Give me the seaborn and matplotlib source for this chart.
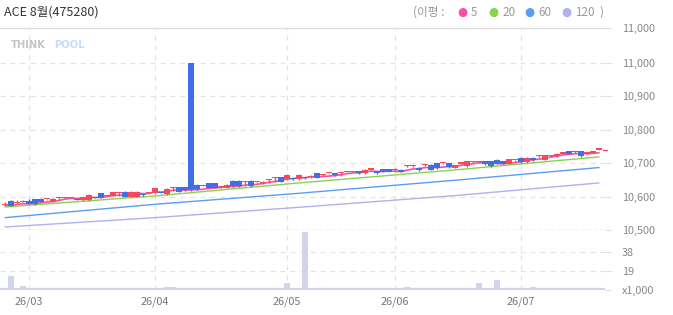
import numpy as np
import pandas as pd
import matplotlib
matplotlib.use("Agg")
import matplotlib.pyplot as plt
import seaborn as sns

# ---------------- data ----------------
title = "ACE 8월(475280)"
month_labels = ["26/03", "26/04", "26/05", "26/06", "26/07"]
month_index = [4, 25, 47, 65, 86]

opens = [10575, 10587, 10582, 10585, 10587, 10592, 10593, 10592, 10585, 10595,
         10597, 10597, 10593, 10590, 10590, 10598, 10610, 10603, 10603, 10610,
         10615, 10600, 10600, 10606, 10612, 10610, 10613, 10608, 10625, 10628,
         10628, 11000, 10635, 10633, 10640, 10640, 10628, 10627, 10647, 10647,
         10645, 10647, 10643, 10640, 10650, 10657, 10658, 10652, 10654, 10652,
         10656, 10660, 10670, 10665, 10670, 10670, 10670, 10675, 10675, 10676,
         10670, 10681, 10676, 10682, 10682, 10680, 10680, 10692, 10692, 10687,
         10695, 10695, 10700, 10700, 10700, 10687, 10699, 10692, 10704, 10704,
         10706, 10706, 10711, 10706, 10699, 10709, 10717, 10704, 10717, 10722,
         10711, 10722, 10722, 10729, 10736, 10734, 10736, 10729, 10732, 10741]
highs = [10585, 10589, 10590, 10590, 10593, 10594, 10595, 10594, 10595, 10598,
         10599, 10599, 10595, 10600, 10607, 10600, 10612, 10605, 10615, 10615,
         10617, 10617, 10617, 10608, 10614, 10627, 10615, 10625, 10628, 10630,
         10630, 11000, 10637, 10635, 10642, 10642, 10630, 10637, 10649, 10649,
         10647, 10649, 10645, 10647, 10652, 10659, 10660, 10667, 10656, 10667,
         10658, 10665, 10672, 10667, 10672, 10672, 10675, 10677, 10677, 10678,
         10683, 10683, 10678, 10684, 10684, 10687, 10682, 10694, 10694, 10689,
         10697, 10697, 10702, 10702, 10702, 10696, 10701, 10708, 10706, 10706,
         10708, 10708, 10713, 10708, 10714, 10711, 10719, 10719, 10719, 10724,
         10726, 10724, 10731, 10731, 10738, 10736, 10738, 10731, 10734, 10743]
lows = [10573, 10571, 10580, 10583, 10577, 10576, 10583, 10590, 10583, 10593,
        10595, 10595, 10589, 10588, 10588, 10595, 10595, 10601, 10601, 10602,
        10598, 10598, 10598, 10603, 10610, 10608, 10610, 10606, 10618, 10613,
        10618, 10618, 10620, 10631, 10625, 10625, 10626, 10625, 10630, 10630,
        10633, 10630, 10641, 10638, 10640, 10645, 10643, 10650, 10651, 10650,
        10653, 10655, 10655, 10663, 10668, 10662, 10663, 10673, 10673, 10668,
        10668, 10679, 10668, 10673, 10673, 10675, 10673, 10690, 10690, 10678,
        10693, 10679, 10684, 10698, 10687, 10685, 10697, 10690, 10702, 10702,
        10695, 10690, 10697, 10697, 10697, 10707, 10702, 10702, 10707, 10720,
        10709, 10720, 10720, 10727, 10727, 10732, 10720, 10727, 10730, 10739]
closes = [10575, 10573, 10582, 10585, 10579, 10578, 10585, 10592, 10593, 10595,
          10597, 10597, 10591, 10598, 10605, 10597, 10597, 10603, 10613, 10610,
          10600, 10615, 10615, 10605, 10612, 10625, 10612, 10623, 10625, 10615,
          10620, 10620, 10622, 10633, 10627, 10627, 10628, 10635, 10632, 10632,
          10645, 10632, 10643, 10645, 10650, 10657, 10645, 10665, 10653, 10665,
          10655, 10660, 10657, 10665, 10670, 10664, 10670, 10675, 10675, 10670,
          10681, 10681, 10670, 10675, 10675, 10680, 10675, 10692, 10692, 10680,
          10695, 10681, 10686, 10700, 10689, 10694, 10699, 10706, 10704, 10704,
          10697, 10692, 10699, 10699, 10712, 10709, 10704, 10717, 10709, 10722,
          10724, 10722, 10729, 10729, 10729, 10734, 10722, 10729, 10732, 10741]
volumes = [1, 14, 1, 4.5, 1.5, 2.5, 1, 1, 1, 1,
           1, 1, 1, 1, 1, 1, 1, 1, 1, 1,
           1, 1, 1, 1, 1, 1, 1, 3.5, 3.5, 1,
           1, 1, 1, 1, 1, 1, 1, 1, 1, 1,
           1, 1, 1, 2.5, 1, 2.5, 2.5, 7.5, 1, 1,
           58, 1, 1, 1, 1, 1, 1, 1, 1, 1,
           1, 1, 1, 1, 1, 1, 1, 3.5, 1, 2.5,
           1, 2.5, 1, 1, 1, 1, 1, 1, 1, 7,
           1, 1, 10.5, 2.5, 1, 1, 2.5, 1, 3.5, 1,
           1, 1, 1, 1, 1, 1, 1, 1, 1, 1]
# longer moving averages read at a few candles
ma_index = [0, 25, 49, 75, 99]
ma20 = [10569, 10602, 10641, 10680, 10719]
ma60 = [10537, 10577, 10610, 10649, 10687]
ma120 = [10509, 10537, 10568, 10603, 10641]

price_ticks = [10500, 10600, 10700, 10800, 10900, 11000, 11105]
price_tick_labels = ["10,500", "10,600", "10,700", "10,800", "10,900", "11,000", "11,000"]
vol_ticks = [0, 19, 38]
vol_tick_labels = ["x1,000", "19", "38"]

# ---------------- style ----------------
sns.set_theme(style="white")
plt.rcParams['font.family'] = ['Noto Sans CJK KR', 'DejaVu Sans']

W, H = 673, 315
fig = plt.figure(figsize=(W / 100, H / 100), dpi=100)
fig.patch.set_facecolor("white")

def fx(x):
    return x / W

def fy(y):
    return 1 - y / H

UP = "#f8485c"
DOWN = "#3f6fe8"
C5 = "#ff4da6"
C20 = "#88d44c"
C60 = "#5a9ef2"
C120 = "#b3b0ee"
VOLC = "#d2d5ea"
GRID = "#e4e4e4"
TXT = "#888888"

left, right = 0, 605
ax = fig.add_axes([fx(left), fy(230), fx(right - left), fy(28) - fy(230)])
axv = fig.add_axes([fx(left), fy(290), fx(right - left), fy(230) - fy(290)])
for a in (ax, axv):
    a.set_facecolor("none")
    a.set_xlim(-0.83, 100)
axv.set_zorder(0)
ax.set_zorder(1)

df = pd.DataFrame({"i": np.arange(len(closes)), "open": opens, "high": highs,
                   "low": lows, "close": closes, "vol": volumes})
df["ma5"] = df["close"].rolling(5, min_periods=1).mean()
ma_df = pd.DataFrame({"i": ma_index, "ma20": ma20, "ma60": ma60, "ma120": ma120})

ax.set_ylim(10500, 11105)
axv.set_ylim(0, 60)

# grids
for t in [10600, 10700, 10800, 10900, 11000]:
    ax.axhline(t, color=GRID, lw=0.9, ls=(0, (4, 4)), zorder=0)
ax.axhline(10500, color="#9a9a9a", lw=0.9, ls=(0, (3, 2)), zorder=0)
for t in [19, 38]:
    axv.axhline(t, color=GRID, lw=0.9, ls=(0, (4, 4)), zorder=0)
for m in month_index:
    ax.axvline(m, color=GRID, lw=0.9, ls=(0, (4, 4)), zorder=0)
    axv.axvline(m, color=GRID, lw=0.9, ls=(0, (4, 4)), zorder=0)

# moving averages
sns.lineplot(data=ma_df, x="i", y="ma120", ax=ax, color=C120, lw=1.0, zorder=2)
sns.lineplot(data=ma_df, x="i", y="ma60", ax=ax, color=C60, lw=1.0, zorder=2)
sns.lineplot(data=ma_df, x="i", y="ma20", ax=ax, color=C20, lw=1.0, zorder=2)
sns.lineplot(data=df, x="i", y="ma5", ax=ax, color=C5, lw=1.2, zorder=3)

# candles
up = df["close"] >= df["open"]
colors = np.where(up, UP, DOWN)
ax.vlines(df["i"], df["low"], df["high"], colors=colors, lw=1.0, zorder=4)
bottom = np.minimum(df["open"], df["close"])
height = np.maximum(np.abs(df["close"] - df["open"]), 3.2)
ax.bar(df["i"], height, bottom=bottom, width=0.85, color=colors, lw=0, zorder=5)

# volume
axv.bar(df["i"], df["vol"], width=0.85, color=VOLC, lw=0, zorder=2)
axv.axhline(0.8, color=VOLC, lw=1.6, zorder=1)

# axes cosmetics
for a in (ax, axv):
    for s in ["left", "right", "bottom", "top"]:
        a.spines[s].set_visible(False)
    a.yaxis.tick_right()
    a.tick_params(axis="y", which="both", length=4, width=0.8, color="#dddddd",
                  pad=8, labelsize=7.8, labelcolor=TXT)
ax.spines["top"].set_visible(True)
ax.spines["top"].set_color("#dddddd")
ax.spines["top"].set_linewidth(1.0)
ax.set_yticks(price_ticks)
ax.set_yticklabels(price_tick_labels)
ax.set_xticks([])
ax.set_xlabel("")
ax.set_ylabel("")
axv.set_yticks(vol_ticks)
axv.set_yticklabels(vol_tick_labels)
axv.set_xticks(month_index)
axv.set_xticklabels(month_labels)
axv.tick_params(axis="x", length=0, pad=5, labelsize=7.8, labelcolor="#777777")
axv.set_xlabel("")
axv.set_ylabel("")
# current price marker
ax.plot([99.6, 100.4], [closes[-1], closes[-1]], color=UP, lw=1.0, clip_on=False, zorder=6)

# title
fig.text(fx(4), fy(12), title, fontsize=9.0, color="#333333", va="center", ha="left")

# legend
ly = fy(12)
fig.text(fx(413), ly, "(이평 :", fontsize=8.4, color="#999999", va="center", ha="left")
legend_items = [("5", C5, 462, 471), ("20", C20, 493, 502), ("60", C60, 529, 538), ("120", C120, 566, 575)]
for lab, col, dx, tx in legend_items:
    fig.text(fx(dx), ly, "●", fontsize=8.4, color=col, va="center", ha="center",
             family=['DejaVu Sans'])
    fig.text(fx(tx), ly, lab, fontsize=8.4, color="#999999", va="center", ha="left")
fig.text(fx(600), ly, ")", fontsize=8.4, color="#999999", va="center", ha="left")

# watermark
fig.text(fx(11), fy(45), "THINK", fontsize=7.2, color="#c4c4c4", weight="bold",
         va="center", ha="left", family=['DejaVu Sans'])
fig.text(fx(54), fy(45), "POOL", fontsize=7.2, color="#c7dcf3", weight="bold",
         va="center", ha="left", family=['DejaVu Sans'])

fig.savefig("out.png", dpi=100, facecolor="white")
